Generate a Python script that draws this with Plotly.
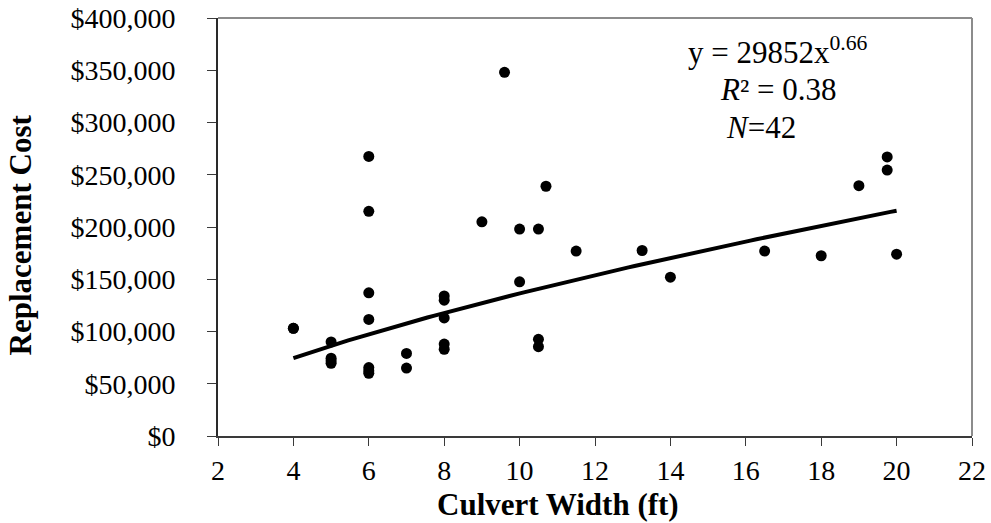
import numpy as np
import plotly.graph_objects as go

# Data
width_ft = [4, 4, 5, 5, 5, 5, 6, 6, 6, 6, 6, 6, 6, 7, 7,
            8, 8, 8, 8, 8, 9, 9.6, 10, 10, 10.5, 10.5, 10.5, 10.7,
            11.5, 13.25, 14, 16.5, 18, 19, 19.75, 19.75, 20]
cost = [103000, 103000, 90000, 74500, 72000, 69500, 267500, 215000, 137000, 111500, 65500, 62500, 60000, 79000, 65000,
        134000, 130000, 113000, 88000, 83000, 205000, 348000, 198000, 147500, 198000, 92500, 85500, 239000,
        177000, 177500, 152000, 177000, 172500, 239500, 267000, 254500, 174000]

fit_coef = 29852
fit_exp = 0.66
fit_x_min, fit_x_max = 4, 20

x_ticks = [2, 4, 6, 8, 10, 12, 14, 16, 18, 20, 22]
y_ticks = [0, 50000, 100000, 150000, 200000, 250000, 300000, 350000, 400000]
y_tick_labels = ["$0", "$50,000", "$100,000", "$150,000", "$200,000",
                 "$250,000", "$300,000", "$350,000", "$400,000"]

fit_x = np.linspace(fit_x_min, fit_x_max, 100)
fit_y = fit_coef * fit_x ** fit_exp

FONT = "Liberation Serif, Times New Roman, serif"
TICK_SIZE = 28
TITLE_SIZE = 31
NOTE_SIZE = 31

fig = go.Figure()
fig.add_trace(go.Scatter(x=width_ft, y=cost, mode="markers",
                         marker=dict(color="black", size=11, line=dict(width=0)),
                         showlegend=False, cliponaxis=False))
fig.add_trace(go.Scatter(x=fit_x, y=fit_y, mode="lines",
                         line=dict(color="black", width=4), showlegend=False))

fig.update_layout(
    template="none",
    width=991, height=523,
    margin=dict(l=218, r=19, t=18, b=87, pad=0),
    plot_bgcolor="white", paper_bgcolor="white",
    font=dict(family=FONT, size=TICK_SIZE, color="black"),
    showlegend=False,
    xaxis=dict(range=[2, 22], tickvals=x_ticks, showgrid=False, zeroline=False,
               automargin=False,
               showline=True, linecolor="#3a3a3a", linewidth=2,
               ticks="outside", ticklen=8, tickcolor="#3a3a3a", tickwidth=1,
               ticklabelstandoff=0,
               tickfont=dict(family=FONT, size=TICK_SIZE, color="black")),
    yaxis=dict(range=[0, 400000], tickvals=y_ticks, ticktext=y_tick_labels,
               showgrid=False, zeroline=False, automargin=False,
               showline=True, linecolor="#2a2a2a", linewidth=2,
               ticks="outside", ticklen=9, tickcolor="#3a3a3a", tickwidth=1,
               ticklabelstandoff=26,
               tickfont=dict(family=FONT, size=TICK_SIZE, color="black")),
)

# gray frame on top and right
fig.add_shape(type="line", xref="paper", yref="paper", x0=0, x1=1, y0=1, y1=1,
              line=dict(color="#8c8c8c", width=2))
fig.add_shape(type="line", xref="paper", yref="paper", x0=1, x1=1, y0=0, y1=1,
              line=dict(color="#8c8c8c", width=2))

# axis titles
fig.add_annotation(x=0.451, y=-0.163, xref="paper", yref="paper", showarrow=False,
                   xanchor="center", yanchor="middle",
                   text="<b>Culvert Width (ft)</b>", font=dict(family=FONT, size=TITLE_SIZE))
fig.add_annotation(x=-0.262, y=0.481, xref="paper", yref="paper", showarrow=False,
                   xanchor="center", yanchor="middle", textangle=-90,
                   text="<b>Replacement Cost</b>", font=dict(family=FONT, size=TITLE_SIZE))

# regression labels
fig.add_annotation(x=16.85, y=369000, xref="x", yref="y", showarrow=False,
                   text="y = 29852x<sup>0.66</sup>", font=dict(family=FONT, size=NOTE_SIZE))
fig.add_annotation(x=16.85, y=332000, xref="x", yref="y", showarrow=False,
                   text="<i>R</i>² = 0.38", font=dict(family=FONT, size=NOTE_SIZE))
fig.add_annotation(x=16.4, y=295000, xref="x", yref="y", showarrow=False,
                   text="<i>N</i>=42", font=dict(family=FONT, size=NOTE_SIZE))

fig.write_html("out.html", config={"displayModeBar": False},
               post_script="document.body.style.margin='0';")
